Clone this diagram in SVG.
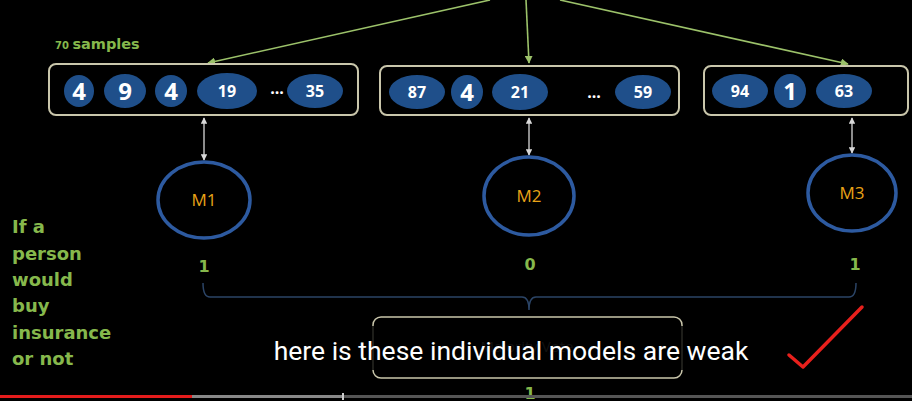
<svg xmlns="http://www.w3.org/2000/svg" width="912" height="401" viewBox="0 0 912 401">
<defs>
<marker id="ga" viewBox="0 0 10 10" refX="9" refY="5" markerWidth="5" markerHeight="5" orient="auto"><path d="M0,0 L10,5 L0,10 z" fill="#9cc26a"/></marker>
<marker id="wa" viewBox="0 0 10 10" refX="9" refY="5" markerWidth="5" markerHeight="5" orient="auto-start-reverse"><path d="M0,0 L10,5 L0,10 z" fill="#d8d8d8"/></marker>
<style>
.box{fill:none;stroke:#c9c6ab;stroke-width:2}
.el{fill:#1f4f8a}
.num{font-family:"Open Sans","Liberation Sans",sans-serif;font-weight:bold;fill:#ffffff;text-anchor:middle}
.m{fill:none;stroke:#2d5aa0;stroke-width:3.5}
.ml{font-family:"Open Sans","Liberation Sans",sans-serif;font-size:17px;fill:#e8a317;text-anchor:middle}
.g{font-family:"DejaVu Sans","Liberation Sans",sans-serif;font-weight:bold;fill:#86b84c}
.gl{stroke:#9cc26a;stroke-width:1.6;fill:none}
.wl{stroke:#d8d8d8;stroke-width:1.3;fill:none}
</style>
</defs>
<rect width="912" height="401" fill="#000000"/>

<g id="connectors">
<line class="gl" x1="490" y1="0" x2="208" y2="63" marker-end="url(#ga)"/>
<line class="gl" x1="526" y1="0" x2="529" y2="63" marker-end="url(#ga)"/>
<line class="gl" x1="560" y1="0" x2="848" y2="64" marker-end="url(#ga)"/>
<line class="wl" x1="204" y1="118" x2="204" y2="160" marker-start="url(#wa)" marker-end="url(#wa)"/>
<line class="wl" x1="529" y1="118" x2="529" y2="155" marker-start="url(#wa)" marker-end="url(#wa)"/>
<line class="wl" x1="852" y1="118" x2="852" y2="153" marker-start="url(#wa)" marker-end="url(#wa)"/>
<path d="M203,283 Q203,297 210,297 L522,297 Q529,297 529,310 Q529,297 536,297 L849,297 Q856,297 856,283" fill="none" stroke="#2b4466" stroke-width="1.5"/>
</g>

<text class="g" x="55" y="49"><tspan font-size="10">70 </tspan><tspan font-size="14.5">samples</tspan></text>

<g id="sample1">
<rect class="box" x="49" y="64" width="309" height="51" rx="7"/>
<ellipse class="el" cx="79" cy="91" rx="15" ry="16"/><text class="num" x="79" y="100" font-size="24">4</text>
<ellipse class="el" cx="125" cy="91" rx="21" ry="17"/><text class="num" x="125" y="100" font-size="24">9</text>
<ellipse class="el" cx="171" cy="91" rx="16" ry="16"/><text class="num" x="171" y="100" font-size="24">4</text>
<ellipse class="el" cx="227" cy="91" rx="30" ry="18"/><text class="num" x="227" y="97" font-size="16">19</text>
<text class="num" x="277" y="94" font-size="16">...</text>
<ellipse class="el" cx="315" cy="91" rx="28" ry="17"/><text class="num" x="315" y="97" font-size="16">35</text>
</g>

<g id="sample2">
<rect class="box" x="380" y="66" width="299" height="49" rx="7"/>
<ellipse class="el" cx="417" cy="92" rx="28" ry="17"/><text class="num" x="417" y="98" font-size="16">87</text>
<ellipse class="el" cx="467" cy="92" rx="16" ry="17"/><text class="num" x="467" y="101" font-size="24">4</text>
<ellipse class="el" cx="520" cy="92" rx="28" ry="18"/><text class="num" x="520" y="98" font-size="16">21</text>
<text class="num" x="594" y="98" font-size="16">...</text>
<ellipse class="el" cx="643" cy="92" rx="28" ry="17"/><text class="num" x="643" y="98" font-size="16">59</text>
</g>

<g id="sample3">
<rect class="box" x="704" y="66" width="204" height="49" rx="7"/>
<ellipse class="el" cx="740" cy="91" rx="28" ry="17"/><text class="num" x="740" y="97" font-size="16">94</text>
<ellipse class="el" cx="790" cy="91" rx="16" ry="17"/><text class="num" x="790" y="100" font-size="24">1</text>
<ellipse class="el" cx="844" cy="91" rx="28" ry="17"/><text class="num" x="844" y="97" font-size="16">63</text>
</g>

<g id="M1"><ellipse class="m" cx="204" cy="200" rx="46" ry="38"/><text class="ml" x="204" y="206">M1</text></g>
<g id="M2"><ellipse class="m" cx="529" cy="196" rx="45" ry="39"/><text class="ml" x="529" y="202">M2</text></g>
<g id="M3"><ellipse class="m" cx="852" cy="193" rx="44" ry="38"/><text class="ml" x="852" y="199">M3</text></g>

<text class="g" x="204" y="272" font-size="16" text-anchor="middle">1</text>
<text class="g" x="530" y="270" font-size="16" text-anchor="middle">0</text>
<text class="g" x="855" y="270" font-size="16" text-anchor="middle">1</text>

<g id="question" class="g" font-size="18">
<text x="12" y="233">If a</text>
<text x="12" y="260">person</text>
<text x="12" y="286">would</text>
<text x="12" y="312">buy</text>
<text x="12" y="339">insurance</text>
<text x="12" y="365">or not</text>
</g>

<g id="vote">
<rect x="373" y="317" width="309" height="61" rx="8" fill="none" stroke="#c9c6ab" stroke-width="1.5"/>
<text x="527" y="352" font-family="Open Sans, Liberation Sans, sans-serif" font-size="15" fill="#555555" text-anchor="middle">Majority Vote</text>
</g>
<text class="g" x="530" y="399" font-size="16" text-anchor="middle">1</text>

<g id="caption">
<rect x="265" y="326" width="492" height="44" fill="#000000" fill-opacity="0.8"/>
<text x="511" y="360" font-family="Roboto, Liberation Sans, sans-serif" font-size="26.5" fill="#ffffff" text-anchor="middle">here is these individual models are weak</text>
</g>

<path d="M789,355 L803,367 L862,307" fill="none" stroke="#e8201c" stroke-width="3.5" stroke-linecap="round" stroke-linejoin="round"/>

<g id="progress">
<rect x="0" y="395" width="912" height="3" fill="#555555"/>
<rect x="0" y="395" width="343" height="3" fill="#888888"/>
<rect x="0" y="395" width="192" height="3" fill="#e51c1c"/>
<rect x="342" y="393" width="2" height="7" fill="#cccccc"/>
</g>
</svg>
